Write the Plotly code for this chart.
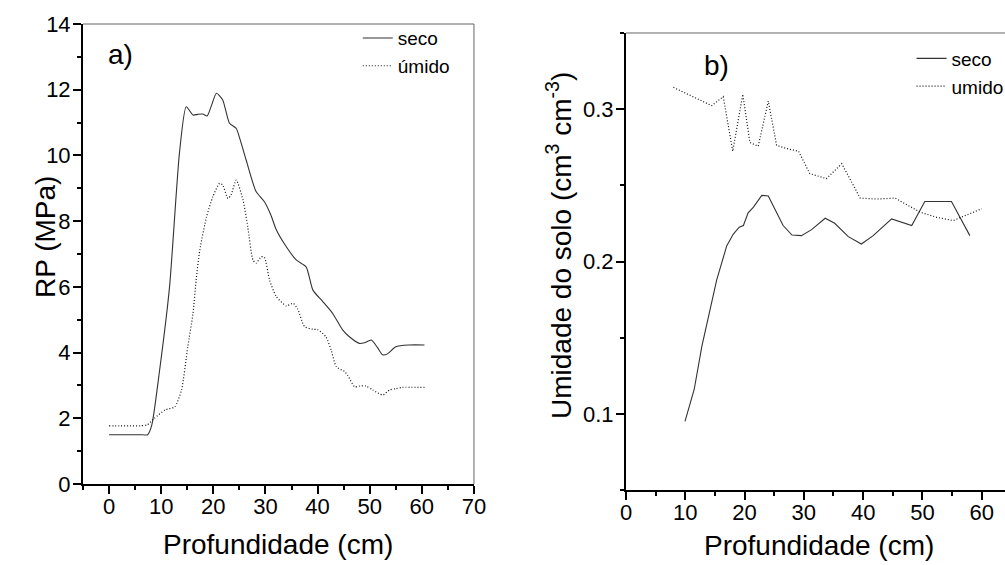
import plotly.graph_objects as go

# ---- Panel a) : penetration resistance (RP, MPa) vs depth ----
a_seco_x = [0, 2, 4, 6, 7.4, 8.2, 9.7, 11.6, 13.5, 14.8, 16.1, 17.0, 18.0, 18.8, 19.6, 20.6, 21.8, 23.1, 24.4, 25.2,
            26.3, 28.2, 29.8, 31.0, 32.1, 34.0, 35.9, 37.8, 39.1, 41.0, 42.9, 44.8, 46.1, 48.0, 49.0, 50.3, 51.5,
            52.5, 53.4, 55.0, 57.6, 60.5]
a_seco_y = [1.5, 1.5, 1.5, 1.5, 1.5, 1.8, 3.47, 6.0, 10.07, 11.48, 11.23, 11.25, 11.26, 11.2, 11.5, 11.89, 11.69,
            10.98, 10.82, 10.45, 9.86, 8.9, 8.59, 8.2, 7.73, 7.22, 6.82, 6.61, 5.9, 5.55, 5.19, 4.69, 4.48, 4.28,
            4.3, 4.38, 4.15, 3.93, 3.96, 4.18, 4.23, 4.23]

a_umido_x = [0, 2, 4, 6, 7.3, 8.7, 10.7, 12.6, 13.9, 15.1, 16.1, 16.7, 17.4, 18.7, 19.9, 21.2, 21.8, 22.8, 23.4,
             24.4, 25.7, 26.6, 27.6, 28.2, 29.2, 29.8, 30.8, 32.1, 34.0, 35.3, 36.2, 37.5, 39.1, 40.0, 41.6,
             42.6, 43.6, 45.2, 45.8, 47.1, 48.0, 49.3, 50.6, 52.5, 53.8, 55.0, 56.3, 60.5]
a_umido_y = [1.77, 1.77, 1.77, 1.77, 1.8, 2.0, 2.25, 2.35, 2.86, 4.18, 5.19, 6.2, 7.12, 8.13, 8.74, 9.15, 9.1, 8.69,
             8.8, 9.25, 8.64, 7.83, 6.82, 6.72, 6.92, 6.9, 6.2, 5.7, 5.42, 5.5, 5.32, 4.79, 4.71, 4.7, 4.48,
             4.08, 3.57, 3.42, 3.3, 2.96, 2.98, 2.98, 2.86, 2.71, 2.86, 2.9, 2.94, 2.94]

# ---- Panel b) : soil water content vs depth ----
b_seco_x = [9.95, 11.5, 12.8, 13.9, 15.3, 17.0, 18.1, 19.1, 19.8, 20.6, 21.5, 22.9, 24.0, 25.1, 26.5, 28.0, 29.6,
            31.3, 33.6, 35.2, 37.5, 39.7, 41.7, 44.8, 48.2, 50.4, 54.9, 58.0]
b_seco_y = [0.095, 0.116, 0.1445, 0.163, 0.188, 0.2104, 0.218, 0.2225, 0.2236, 0.232, 0.2357, 0.2434, 0.243,
            0.2345, 0.2236, 0.2174, 0.217, 0.2209, 0.2284, 0.2251, 0.2163, 0.2115, 0.217, 0.228, 0.2236, 0.2394,
            0.2394, 0.217]

b_umido_x = [8.0, 14.45, 16.4, 18.0, 19.7, 20.9, 22.3, 24.0, 25.4, 27.1, 29.1, 31.0, 33.8, 36.4, 39.5, 42.3,
             45.4, 49.6, 52.4, 55.2, 60.0]
b_umido_y = [0.3143, 0.3023, 0.3082, 0.2724, 0.3097, 0.2781, 0.2757, 0.3053, 0.2763, 0.2741, 0.2724, 0.2577,
             0.2544, 0.2642, 0.2416, 0.241, 0.2416, 0.2324, 0.229, 0.2269, 0.2346]

legend_a = ["seco", "úmido"]
legend_b = ["seco", "umido"]
x_title = "Profundidade (cm)"
ya_title = "RP (MPa)"
yb_title = "Umidade do solo (cm<sup>3</sup> cm<sup>-3</sup>)"

FONT = "Liberation Sans, Arial, sans-serif"
DOT = "1px,2px"

fig = go.Figure()
fig.add_trace(go.Scatter(x=a_seco_x, y=a_seco_y, mode="lines", name=legend_a[0],
                         line=dict(color="#333333", width=1.1, shape="spline", smoothing=0.6),
                         xaxis="x", yaxis="y", legend="legend"))
fig.add_trace(go.Scatter(x=a_umido_x, y=a_umido_y, mode="lines", name=legend_a[1],
                         line=dict(color="#111111", width=1.2, dash=DOT, shape="spline", smoothing=0.6),
                         xaxis="x", yaxis="y", legend="legend"))
fig.add_trace(go.Scatter(x=b_seco_x, y=b_seco_y, mode="lines", name=legend_b[0],
                         line=dict(color="#333333", width=1.1),
                         xaxis="x2", yaxis="y2", legend="legend2"))
fig.add_trace(go.Scatter(x=b_umido_x, y=b_umido_y, mode="lines", name=legend_b[1],
                         line=dict(color="#111111", width=1.2, dash=DOT),
                         xaxis="x2", yaxis="y2", legend="legend2"))

axis_common = dict(showgrid=False, zeroline=False, showline=True, linecolor="black", linewidth=2,
                   ticks="outside", ticklen=8, tickwidth=2, tickcolor="black", automargin=False,
                   tickfont=dict(family=FONT, size=22, color="black"))
minor_common = dict(ticks="outside", ticklen=4, tickwidth=2, tickcolor="black")

title_font = dict(family=FONT, size=28, color="black")


def paper_xy(px, py):
    return px / 1005.0, 1.0 - py / 565.0


annotations = []
for (px, py, txt, ang) in [(278, 544, x_title, 0), (819, 545, x_title, 0),
                           (45, 237, ya_title, -90), (559, 246, yb_title, -90)]:
    ax_, ay_ = paper_xy(px, py)
    annotations.append(dict(text=txt, xref="paper", yref="paper", x=ax_, y=ay_, xanchor="center",
                            yanchor="middle", textangle=ang, showarrow=False, font=title_font))
annotations += [
    dict(text="a)", xref="x domain", yref="y domain", x=0.06, y=0.933, xanchor="left", yanchor="middle",
         showarrow=False, font=title_font),
    dict(text="b)", xref="x2 domain", yref="y2 domain", x=0.2, y=0.929, xanchor="left", yanchor="middle",
         showarrow=False, font=title_font),
]

fig.update_layout(
    width=1005, height=565,
    margin=dict(l=0, r=0, t=0, b=0, autoexpand=False),
    paper_bgcolor="white", plot_bgcolor="white",
    font=dict(family=FONT, color="black"),
    xaxis=dict(axis_common, domain=[0.0826, 0.4716], range=[-5, 70], tick0=0, dtick=10,
               minor=dict(minor_common, dtick=5), ticklabelstandoff=-6, anchor="y"),
    yaxis=dict(axis_common, domain=[0.1434, 0.9575], range=[0, 14], tick0=0, dtick=2,
               minor=dict(minor_common, dtick=1), ticklabelstandoff=-2, anchor="x"),
    xaxis2=dict(axis_common, domain=[0.6229, 1.0], range=[0, 63.93], tick0=0, dtick=10,
                minor=dict(minor_common, dtick=5), ticklabelstandoff=-6, anchor="y2"),
    yaxis2=dict(axis_common, domain=[0.1327, 0.9416], range=[0.05, 0.35], tick0=0.1, dtick=0.1,
                tickformat=".1f", minor=dict(minor_common, dtick=0.05), ticklabelstandoff=-2, anchor="x2"),
    legend=dict(x=0.356, y=0.966, xanchor="left", yanchor="top", bgcolor="rgba(0,0,0,0)",
                font=dict(family=FONT, size=19, color="black"), tracegroupgap=0, itemwidth=30),
    legend2=dict(x=0.907, y=0.93, xanchor="left", yanchor="top", bgcolor="rgba(0,0,0,0)",
                 font=dict(family=FONT, size=19, color="black"), tracegroupgap=0, itemwidth=30),
    showlegend=True,
    shapes=[
        dict(type="line", xref="x domain", yref="y domain", x0=0, x1=1, y0=1, y1=1,
             line=dict(color="#666666", width=1)),
        dict(type="line", xref="x domain", yref="y domain", x0=1, x1=1, y0=0, y1=1,
             line=dict(color="#666666", width=1)),
        dict(type="line", xref="x2 domain", yref="y2 domain", x0=0, x1=1, y0=1, y1=1,
             line=dict(color="#666666", width=1)),
    ],
    annotations=annotations,
)

fig.write_html("out.html", config={"displayModeBar": False},
               post_script="document.body.style.margin='0px';document.body.style.overflow='hidden';")
